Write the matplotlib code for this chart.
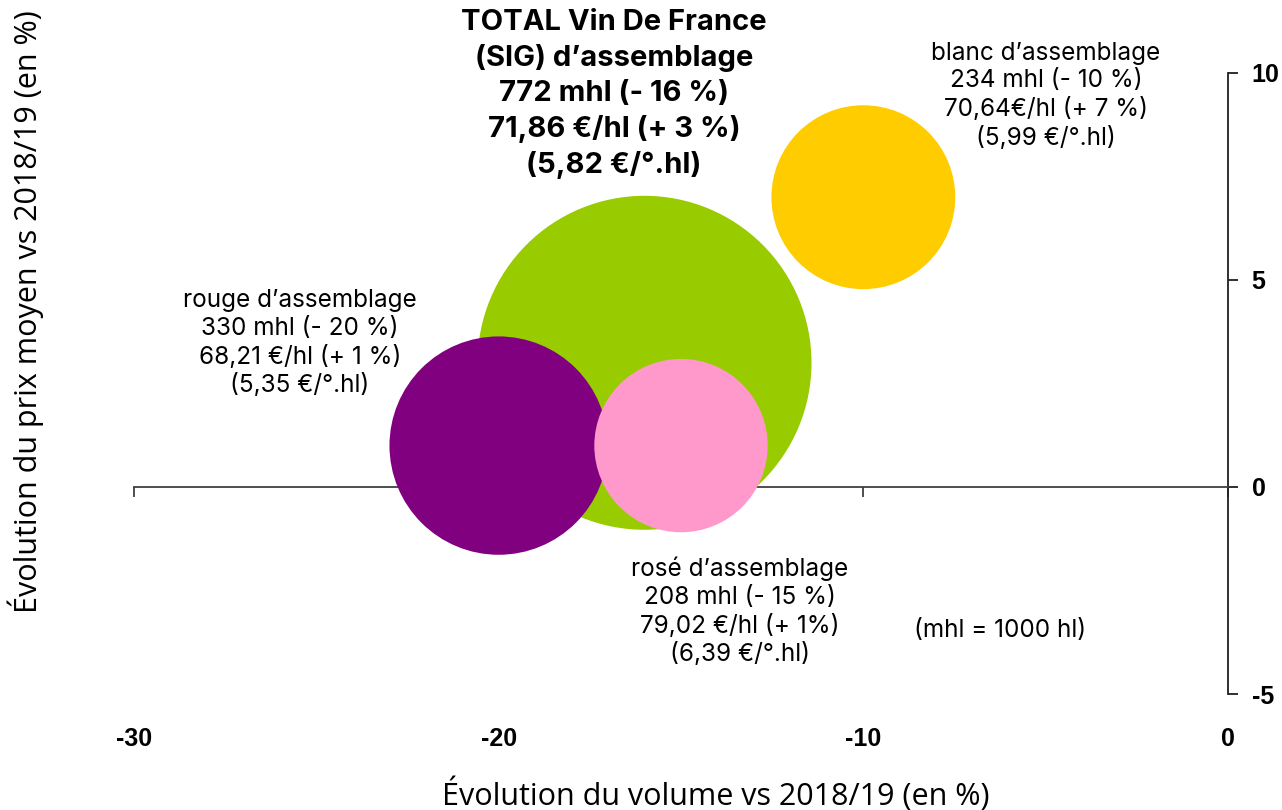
import numpy as np
import matplotlib.pyplot as plt

plt.rcParams["axes.unicode_minus"] = False

# bubble data: volume change (%), price change (%), volume (mhl)
names = ["TOTAL", "rouge", "rosé", "blanc"]
vol_change = [-16, -20, -15, -10]
price_change = [3, 1, 1, 7]
volume_mhl = [772, 330, 208, 234]
colors = ["#99CC00", "#800080", "#FF99CC", "#FFCC00"]

labels = [
    "TOTAL Vin De France\n(SIG) d\u2019assemblage\n772 mhl (- 16 %)\n71,86 \u20ac/hl (+ 3 %)\n(5,82 \u20ac/\u00b0.hl)",
    "rouge d\u2019assemblage\n330 mhl (- 20 %)\n68,21 \u20ac/hl (+ 1 %)\n(5,35 \u20ac/\u00b0.hl)",
    "ros\u00e9 d\u2019assemblage\n208 mhl (- 15 %)\n79,02 \u20ac/hl (+ 1%)\n(6,39 \u20ac/\u00b0.hl)",
    "blanc d\u2019assemblage\n234 mhl (- 10 %)\n70,64\u20ac/hl (+ 7 %)\n(5,99 \u20ac/\u00b0.hl)",
]
label_pos = [(-16.84, 9.49), (-25.45, 3.47), (-13.38, -3.01), (-4.99, 9.45)]

xticks = [-30, -20, -10, 0]
yticks = [-5, 0, 5, 10]

fig = plt.figure(figsize=(12.82, 8.10), dpi=100)
ax = fig.add_axes([0.1045, 0.1432, 0.8534, 0.7667])

ax.scatter(vol_change, price_change, s=np.array(volume_mhl) * 74.9,
           c=colors, linewidths=0, zorder=3)

ax.set_xlim(-30, 0)
ax.set_ylim(-5, 10)

for side in ["left", "top"]:
    ax.spines[side].set_visible(False)
ax.spines["bottom"].set_position(("data", 0))
ax.spines["bottom"].set_color("#404040")
ax.spines["bottom"].set_linewidth(1.3)
ax.spines["right"].set_color("#202020")
ax.spines["right"].set_linewidth(1.3)

ax.set_xticks(xticks)
ax.tick_params(axis="x", direction="out", length=7, width=1.3,
               color="#404040", labelbottom=False)
ax.yaxis.tick_right()
ax.set_yticks(yticks)
ax.tick_params(axis="y", direction="out", length=7, width=1.3,
               color="#202020", pad=10)
for t in ax.get_yticklabels():
    t.set_fontfamily("Liberation Sans")
    t.set_fontweight("bold")
    t.set_fontsize(18)

# x tick labels sit below the plot ("low" position)
for xv in xticks:
    ax.text(xv, -0.072, str(xv), transform=ax.get_xaxis_transform(),
            ha="center", va="center", fontsize=18, fontweight="bold",
            family="Liberation Sans")

for i, (txt, (lx, ly)) in enumerate(zip(labels, label_pos)):
    if i == 0:
        ax.text(lx, ly, txt, ha="center", va="center", fontsize=21,
                fontweight="bold", family="Inter", linespacing=1.36,
                clip_on=False)
    else:
        ax.text(lx, ly, txt, ha="center", va="center", fontsize=17.5,
                family="Inter", linespacing=1.25, clip_on=False)

ax.text(-6.25, -3.47, "(mhl = 1000 hl)", ha="center", va="center",
        fontsize=17.5, family="Inter")

fig.text(0.558, 0.0185, "\u00c9volution du volume vs 2018/19 (en %)",
         ha="center", va="center", fontsize=22, family="Open Sans")
fig.text(0.02, 0.615, "\u00c9volution du prix moyen vs 2018/19 (en %)",
         ha="center", va="center", rotation=90, fontsize=22,
         family="Open Sans")

fig.savefig("out.png", dpi=100)
